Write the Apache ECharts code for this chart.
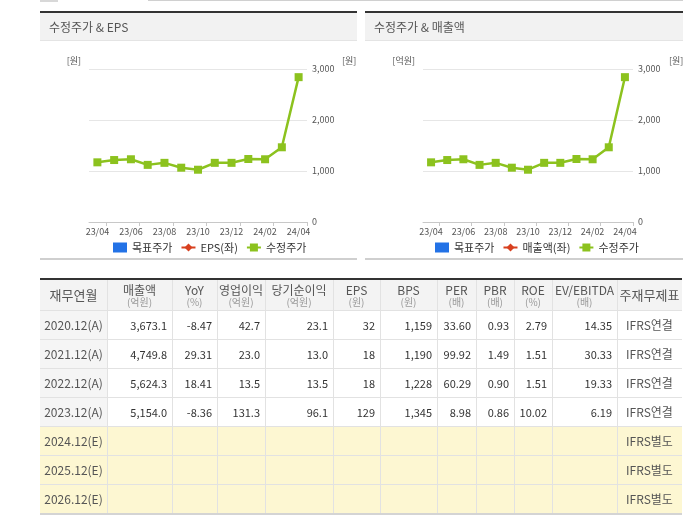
<!DOCTYPE html>
<html><head><meta charset="utf-8">
<script src="https://cdn.jsdelivr.net/npm/echarts@6/dist/echarts.min.js"></script>
<style>html,body{margin:0;padding:0;background:#fff}#c{width:700px;height:520px}</style>
</head><body><div id="c"></div>
<script>
// ---------- chart data ----------
const months = ['23/04','23/05','23/06','23/07','23/08','23/09','23/10','23/11','23/12','24/01','24/02','24/03','24/04'];
const adjPrice = [1170,1215,1230,1120,1160,1065,1025,1160,1160,1235,1230,1465,2840];
const targetPrice = [];
const epsLine = [];
const salesLine = [];
const priceMin = 0, priceMax = 3000, priceStep = 1000;

// ---------- table data ----------
const periods = ['2020.12(A)','2021.12(A)','2022.12(A)','2023.12(A)','2024.12(E)','2025.12(E)','2026.12(E)'];
const sales = [3673.1,4749.8,5624.3,5154.0];
const yoy = [-8.47,29.31,18.41,-8.36];
const opIncome = [42.7,23.0,13.5,131.3];
const netIncome = [23.1,13.0,13.5,96.1];
const eps = [32,18,18,129];
const bps = [1159,1190,1228,1345];
const per = [33.60,99.92,60.29,8.98];
const pbr = [0.93,1.49,0.90,0.86];
const roe = [2.79,1.51,1.51,10.02];
const evEbitda = [14.35,30.33,19.33,6.19];
const basis = ['IFRS연결','IFRS연결','IFRS연결','IFRS연결','IFRS별도','IFRS별도','IFRS별도'];
const headTitles = ['재무연월','매출액','YoY','영업이익','당기순이익','EPS','BPS','PER','PBR','ROE','EV/EBITDA','주재무제표'];
const headUnits  = ['','(억원)','(%)','(억원)','(억원)','(원)','(원)','(배)','(배)','(%)','(배)',''];

// ---------- layout ----------
const FONT = '"Noto Sans CJK KR", "Noto Sans", sans-serif';
const colEdges = [40,107,172,217,265,333,380,437,476,514,552,617,682];
const tableTop = 278, headH = 32, rowH = 29;
const panels = [{x0:40,x1:357,title:'수정주가 & EPS'},{x0:365,x1:683,title:'수정주가 & 매출액'}];

function fmt(v, d){
  if (v === undefined || v === null) return '';
  return v.toLocaleString('en-US',{minimumFractionDigits:d,maximumFractionDigits:d});
}
const numCols = [
  {vals:sales,d:1},{vals:yoy,d:2},{vals:opIncome,d:1},{vals:netIncome,d:1},
  {vals:eps,d:0},{vals:bps,d:0},{vals:per,d:2},{vals:pbr,d:2},{vals:roe,d:2},{vals:evEbitda,d:2}
];

const G = [];
function rect(x,y,w,h,fill){G.push({type:'rect',silent:true,shape:{x:x,y:y,width:w,height:h},style:{fill:fill}});}
function text(x,y,t,opt){
  opt = opt||{};
  G.push({type:'text',silent:true,x:x,y:y,style:{text:t,fill:opt.fill||'#444',fontSize:opt.size||12,fontFamily:FONT,
    align:opt.align||'left',verticalAlign:'middle',textAlign:opt.align||'left',textVerticalAlign:'middle'}});
}
// top strip remnants
rect(40,0,18,2,'#d8d8d8');
rect(148,0,535,1,'#d0d0d0');
// panels
panels.forEach(p=>{
  rect(p.x0,12,p.x1-p.x0,28,'#f2f2f2');
  rect(p.x0,11,p.x1-p.x0,2,'#333');
  rect(p.x0,40,p.x1-p.x0,1,'#e4e4e4');
  rect(p.x0,258,p.x1-p.x0,2,'#cfcfcf');
  text(p.x0+9,27,p.title,{fill:'#555',size:12});
});
// table
const nRows = periods.length;
const tW = colEdges[colEdges.length-1]-colEdges[0];
rect(colEdges[0],tableTop,tW,headH,'#f3f3f3');
for(let r=0;r<nRows;r++){
  const y = tableTop+headH+r*rowH;
  const est = periods[r].indexOf('(E)')>=0;
  rect(colEdges[0],y,tW,rowH,est?'#fdf7d2':'#ffffff');
  if(!est) rect(colEdges[0],y,colEdges[1]-colEdges[0],rowH,'#f5f5f5');
}
// horizontal lines
for(let r=0;r<nRows;r++){
  const y = tableTop+headH+r*rowH;
  rect(colEdges[0],y,tW,1,'#e2e2e2');
}
// vertical lines
for(let c=1;c<colEdges.length-1;c++){
  rect(colEdges[c],tableTop,1,headH+nRows*rowH,'#e2e2e2');
}
rect(colEdges[0],tableTop,tW,2,'#333');
rect(colEdges[0],tableTop+headH+nRows*rowH,tW,2,'#d4d4d4');
// header text
headTitles.forEach((t,i)=>{
  const cx = (colEdges[i]+colEdges[i+1])/2;
  if(headUnits[i]){
    text(cx,tableTop+12,t,{align:'center',fill:'#555',size:12});
    text(cx,tableTop+24,headUnits[i],{align:'center',fill:'#999',size:10});
  } else {
    text(cx,tableTop+17,t,{align:'center',fill:'#555',size:13});
  }
});
// body text
for(let r=0;r<nRows;r++){
  const cy = tableTop+headH+r*rowH+rowH/2+1;
  text((colEdges[0]+colEdges[1])/2,cy,periods[r],{align:'center',fill:'#555',size:12});
  numCols.forEach((col,ci)=>{
    const s = fmt(col.vals[r],col.d);
    if(s) text(colEdges[ci+2]-5,cy,s,{align:'right',fill:'#333',size:11});
  });
  text((colEdges[11]+colEdges[12])/2,cy,basis[r],{align:'center',fill:'#555',size:12});
}

// ---------- chart ----------
const grids = [{x0:89,x1:307},{x0:423,x1:633}];
const leftNames = ['[원]','[억원]'];
const secondNames = ['EPS(좌)','매출액(좌)'];
const secondData = [epsLine, salesLine];

const option = {
  animation:false,
  textStyle:{fontFamily:FONT},
  grid: grids.map(g=>({left:g.x0,width:g.x1-g.x0,top:69,height:153,containLabel:false,outerBoundsMode:'none'})),
  xAxis: grids.map((g,i)=>({
    type:'category',gridIndex:i,data:months,boundaryGap:true,
    axisLine:{lineStyle:{color:'#c8c8c8'}},
    axisTick:{show:true,interval:function(idx){return idx%2===1;},length:4,lineStyle:{color:'#c8c8c8'}},
    axisLabel:{interval:1,fontSize:9,color:'#555',margin:5,fontFamily:FONT},
    splitLine:{show:false}
  })),
  yAxis: [].concat.apply([], grids.map((g,i)=>[
    {type:'value',gridIndex:i,position:'left',min:priceMin,max:priceMax,interval:priceStep,
     name:leftNames[i],nameLocation:'end',nameGap:4,
     nameTextStyle:{align:'right',padding:[0,8,0,0],fontSize:9,color:'#555',fontFamily:FONT},
     axisLine:{show:false},axisTick:{show:false},axisLabel:{show:false},splitLine:{show:false}},
    {type:'value',gridIndex:i,position:'right',min:priceMin,max:priceMax,interval:priceStep,
     name:'[원]',nameLocation:'end',nameGap:4,
     nameTextStyle:{align:'left',padding:[0,0,0,i===0?35:36],fontSize:9,color:'#555',fontFamily:FONT},
     axisLine:{show:false},axisTick:{show:false},
     axisLabel:{fontSize:9,color:'#555',margin:5,fontFamily:FONT,formatter:v=>v.toLocaleString('en-US')},
     splitLine:{show:true,lineStyle:{color:'#e6e6e6'}}}
  ])),
  legend: grids.map((g,i)=>({
    left: i===0?108:430, top:237, itemWidth:14, itemHeight:10, itemGap:8,
    textStyle:{fontSize:11,color:'#333',fontFamily:FONT},
    data:[{name:'목표주가',icon:'rect'}, secondNames[i], '수정주가'],
    selectedMode:false
  })),
  series: [].concat.apply([], grids.map((g,i)=>[
    {name:'목표주가',type:'bar',xAxisIndex:i,yAxisIndex:2*i,data:targetPrice,itemStyle:{color:'#2372e6'}},
    {name:secondNames[i],type:'line',xAxisIndex:i,yAxisIndex:2*i,data:secondData[i],
     symbol:'diamond',symbolSize:8,itemStyle:{color:'#d8401f'},lineStyle:{color:'#d8401f',width:2}},
    {name:'수정주가',type:'line',xAxisIndex:i,yAxisIndex:2*i+1,data:adjPrice,
     symbol:'rect',symbolSize:8,itemStyle:{color:'#8cc21e'},lineStyle:{color:'#8cc21e',width:2.5}}
  ])),
  graphic:{elements:G}
};
const chart = echarts.init(document.getElementById('c'),null,{renderer:'canvas'});
chart.setOption(option);
</script>
</body></html>
